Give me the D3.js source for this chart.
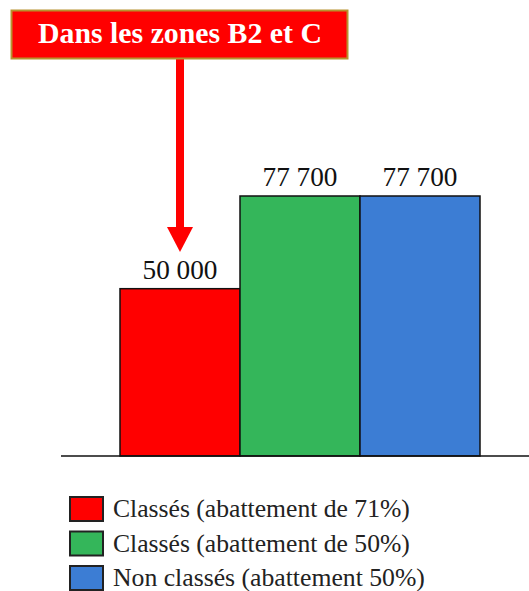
<!DOCTYPE html>
<html><head><meta charset="utf-8">
<script src="https://cdn.jsdelivr.net/npm/d3@7"></script>
<style>body{margin:0;background:#fff}svg{display:block}
text{font-family:"Liberation Serif","DejaVu Serif",serif}</style>
</head><body>
<script>
const categories = ["Classés (abattement de 71%)", "Classés (abattement de 50%)", "Non classés (abattement 50%)"];
const values = [50000, 77700, 77700];
const valueLabels = ["50 000", "77 700", "77 700"];
const colors = ["#ff0000", "#34b65a", "#3c7dd4"];
const titleText = "Dans les zones B2 et C";
const legendWidths = [297, 297, 312];

const W = 529, H = 591;
const svg = d3.select("body").append("svg").attr("width", W).attr("height", H);

const x = d3.scaleBand().domain(categories).range([120, 480]).padding(0);
const y = d3.scaleLinear().domain([0, 77700]).range([456, 196]);

function fitWidth(sel, w) {
  sel.each(function (d, i) {
    const target = typeof w === "function" ? w(d, i) : w;
    const cur = this.getComputedTextLength();
    const fs = parseFloat(this.getAttribute("font-size"));
    this.setAttribute("font-size", (fs * target / cur).toFixed(2));
  });
}

// bars
svg.selectAll("rect.bar").data(values).enter().append("rect")
  .attr("class", "bar")
  .attr("x", (d, i) => x(categories[i]))
  .attr("y", d => y(d))
  .attr("width", x.bandwidth())
  .attr("height", d => y(0) - y(d))
  .attr("fill", (d, i) => colors[i])
  .attr("stroke", "#111").attr("stroke-width", 1.5);

// baseline
svg.append("line").attr("x1", 61).attr("x2", 529).attr("y1", y(0)).attr("y2", y(0))
  .attr("stroke", "#111").attr("stroke-width", 1.5);

// value labels
const vl = svg.selectAll("text.val").data(values).enter().append("text")
  .attr("class", "val")
  .attr("x", (d, i) => x(categories[i]) + x.bandwidth() / 2)
  .attr("y", d => y(d) - 10)
  .attr("text-anchor", "middle")
  .attr("font-size", 27).attr("fill", "#111")
  .text((d, i) => valueLabels[i]);
fitWidth(vl, 75);

// arrow
const ax = x(categories[0]) + x.bandwidth() / 2;
svg.append("rect").attr("x", ax - 4).attr("y", 59).attr("width", 8).attr("height", 170).attr("fill", "#ff0000");
svg.append("path").attr("d", `M${ax - 13},227 L${ax + 13},227 L${ax},252 Z`).attr("fill", "#ff0000");

// title box
svg.append("rect").attr("x", 11.5).attr("y", 10.5).attr("width", 336).attr("height", 48)
  .attr("fill", "#ff0000").attr("stroke", "#b8922e").attr("stroke-width", 2);
const tt = svg.append("text").attr("x", 180).attr("y", 43).attr("text-anchor", "middle")
  .attr("font-weight", "bold").attr("font-size", 26)
  .attr("fill", "#fff").text(titleText);
fitWidth(tt, 284);

// legend
const lg = svg.selectAll("g.leg").data(categories).enter().append("g")
  .attr("class", "leg").attr("transform", (d, i) => `translate(0,${i * 34.5})`);
lg.append("rect").attr("x", 70).attr("y", 497).attr("width", 33).attr("height", 24)
  .attr("fill", (d, i) => colors[i]).attr("stroke", "#222").attr("stroke-width", 2);
const lt = lg.append("text").attr("x", 113).attr("y", 517)
  .attr("font-size", 23).attr("fill", "#222")
  .text(d => d);
fitWidth(lt, (d, i) => legendWidths[i]);
</script>
</body></html>
